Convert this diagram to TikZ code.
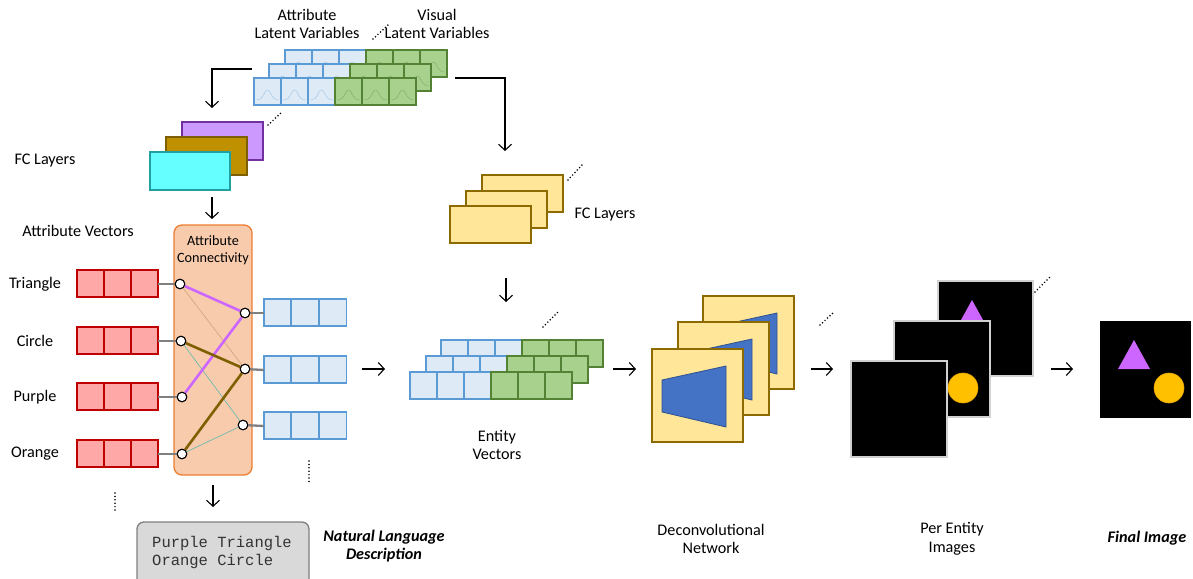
\documentclass[tikz,border=0pt]{standalone}
\usepackage{fontspec}
\setmainfont{Carlito}
\newfontfamily\monofont{Liberation Mono}
\usetikzlibrary{arrows.meta}
\definecolor{blueF}{HTML}{DEEBF7}
\definecolor{blueD}{HTML}{5B9BD5}
\definecolor{blueC}{HTML}{9DC3E6}
\definecolor{greenF}{HTML}{A9D18E}
\definecolor{greenD}{HTML}{548235}
\definecolor{greenC}{HTML}{7FA86A}
\definecolor{redF}{HTML}{FFA8A8}
\definecolor{redD}{HTML}{C00000}
\definecolor{purF}{HTML}{CC99FF}
\definecolor{purD}{HTML}{7030A0}
\definecolor{brnF}{HTML}{BF9000}
\definecolor{brnD}{HTML}{7F6000}
\definecolor{cyaF}{HTML}{66FFFF}
\definecolor{cyaD}{HTML}{20A0A0}
\definecolor{yelF}{HTML}{FFE699}
\definecolor{yelD}{HTML}{8C6A00}
\definecolor{orgF}{HTML}{F8CBAD}
\definecolor{orgD}{HTML}{ED7D31}
\definecolor{trapF}{HTML}{4472C4}
\definecolor{trapD}{HTML}{2F528F}
\definecolor{triC}{HTML}{CC66FF}
\definecolor{cirC}{HTML}{FFC000}
\definecolor{cirD}{HTML}{E0A000}
\definecolor{linkP}{HTML}{CC66FF}
\definecolor{linkB}{HTML}{7F6000}
\definecolor{thinT}{HTML}{D0A27C}
\definecolor{thinC}{HTML}{5FB8B0}
\definecolor{boxF}{HTML}{D9D9D9}
\definecolor{boxD}{HTML}{7F7F7F}
\newcommand\latcell[5]{%
  \draw[fill=#3,draw=#4,line width=1.3pt] (#1,#2) rectangle ++(27,27);
  \draw[#5,line width=0.4pt] plot[domain=-1:1,samples=25,variable=\t] ({#1+13.5+11*\t},{#2+22-10*exp(-5*\t*\t)});}
\newcommand\plaincell[4]{%
  \draw[fill=#3,draw=#4,line width=1.3pt] (#1,#2) rectangle ++(27,27);}
\begin{document}
\begin{tikzpicture}[x=1pt,y=-1pt,
  lbl/.style={font=\fontsize{16.2}{18.5}\selectfont, align=center, inner sep=0pt},
  smlbl/.style={font=\fontsize{14.2}{17}\selectfont, align=center, inner sep=0pt},
  bilbl/.style={font=\fontsize{16.2}{18.5}\selectfont\bfseries\itshape, align=center, inner sep=0pt},
  arr/.style={-{Straight Barb[length=6pt,width=13pt]}, line width=1.1pt},
  dotsline/.style={line width=1.7pt, line cap=round, dash pattern=on 0pt off 3.4pt},
  gconn/.style={draw=gray, line width=2.3pt},
  port/.style={circle, draw=black, fill=white, line width=1pt, minimum size=9.5pt, inner sep=0pt},
  fcbox/.style={line width=1.5pt},
  sq/.style={draw=yelD, fill=yelF, line width=1.6pt},
  img/.style={fill=black, draw=white!82!black, line width=1.4pt},
]
\useasboundingbox (0,0) rectangle (1193,578);

% ---------- top latent variables ----------
\node[lbl] (attlat) at (307,24) {Attribute\\Latent Variables};
\node[lbl] (vislat) at (437,24) {Visual\\Latent Variables};
\coordinate (d1a) at (373,39); \coordinate (d1b) at (388,25);
\draw[dotsline] (d1a) -- (d1b);
\foreach \rx/\ry in {285/50, 269/64, 254/78}{
  \foreach \i in {0,1,2}{\latcell{\rx+27*\i}{\ry}{blueF}{blueD}{blueC}}
  \foreach \i in {3,4,5}{\latcell{\rx+27*\i}{\ry}{greenF}{greenD}{greenC}}
}
\coordinate (lA) at (252,69); \coordinate (lB) at (212,108);
\draw[arr] (lA) -| (lB);
\coordinate (rA) at (455,78); \coordinate (rB) at (505,151);
\draw[arr] (rA) -| (rB);

% ---------- left FC layers ----------
\draw[fcbox, fill=purF, draw=purD] (182,122) rectangle (263,160);
\draw[fcbox, fill=brnF, draw=brnD] (166,137) rectangle (247,175);
\draw[fcbox, fill=cyaF, draw=cyaD] (150,152) rectangle (230,190);
\coordinate (d2a) at (268,125); \coordinate (d2b) at (282,112);
\draw[dotsline] (d2a) -- (d2b);
\node[lbl] (fcl) at (45,161) {FC Layers};
\coordinate (aA) at (212,197); \coordinate (aB) at (212,219);
\draw[arr] (aA) -- (aB);

% ---------- attribute vectors & connectivity ----------
\node[lbl] (attvec) at (78,231) {Attribute Vectors};
\draw[fill=orgF, draw=orgD, line width=1.3pt, rounded corners=8pt] (174,225) rectangle (252,475);
\node[smlbl] (attcon) at (213,250) {Attribute\\Connectivity};

\foreach \yy/\nm/\tx in {270/1/Triangle, 327/2/Circle, 383/3/Purple, 440/4/Orange}{
  \foreach \i in {0,1,2}{\plaincell{77+27*\i}{\yy}{redF}{redD}}
  \node[lbl] (lab\nm) at (35,\yy+14) {\tx};
  \coordinate (rv\nm) at (158,\yy+14);
}
\foreach \yy/\nm in {299/1, 356/2, 412/3}{
  \foreach \i in {0,1,2}{\plaincell{264+27.7*\i}{\yy}{blueF}{blueD}}
  \coordinate (bv\nm) at (264,\yy+14);
}
\node[port] (L1) at (180,284) {};
\node[port] (L2) at (181,341) {};
\node[port] (L3) at (182,397) {};
\node[port] (L4) at (182,454) {};
\node[port] (R1) at (245,313) {};
\node[port] (R2) at (245,369) {};
\node[port] (R3) at (243,425) {};
\foreach \k in {1,2,3,4}{\draw[gconn] (rv\k) -- (L\k);}
\foreach \k in {1,2,3}{\draw[gconn] (R\k) -- (bv\k);}
\draw[thinT, line width=0.6pt] (L1) -- (R2);
\draw[thinC, line width=0.6pt] (L2) -- (R3);
\draw[thinC, line width=0.6pt] (L4) -- (R3);
\draw[linkP, line width=2.6pt] (L1) -- (R1);
\draw[linkP, line width=2.6pt] (L3) -- (R1);
\draw[linkB, line width=2.6pt] (L2) -- (R2);
\draw[linkB, line width=2.6pt] (L4) -- (R2);
\foreach \n in {L1,L2,L3,L4,R1,R2,R3}{\node[port] at (\n) {};}

\coordinate (v1a) at (309,461); \coordinate (v1b) at (309,482);
\draw[dotsline] (v1a) -- (v1b);
\coordinate (v2a) at (115,493); \coordinate (v2b) at (115,513);
\draw[dotsline] (v2a) -- (v2b);
\coordinate (bA) at (213,485); \coordinate (bB) at (213,507);
\draw[arr] (bA) -- (bB);

% ---------- natural language box ----------
\draw[fill=boxF, draw=boxD, line width=1.3pt, rounded corners=7pt] (137,522) rectangle (309,595);
\node[anchor=west, align=left, inner sep=0pt, text=black!80, font=\monofont\fontsize{15.5}{18}\selectfont] (nl) at (152,552) {Purple Triangle\\Orange Circle};
\node[bilbl] (nld) at (384,546) {Natural Language\\Description};

% ---------- arrow to entity vectors ----------
\coordinate (cA) at (362,369); \coordinate (cB) at (385,369);
\draw[arr] (cA) -- (cB);

% ---------- right FC layers ----------
\draw[fcbox, fill=yelF, draw=yelD] (482,175) rectangle (563,212);
\draw[fcbox, fill=yelF, draw=yelD] (466,191) rectangle (547,228);
\draw[fcbox, fill=yelF, draw=yelD] (450,206) rectangle (531,243);
\coordinate (d3a) at (568,180); \coordinate (d3b) at (582,165);
\draw[dotsline] (d3a) -- (d3b);
\node[lbl] (fcr) at (605,215) {FC Layers};
\coordinate (eA) at (506,278); \coordinate (eB) at (506,302);
\draw[arr] (eA) -- (eB);

% ---------- entity vectors ----------
\foreach \rx/\ry in {441/340, 426/356, 410/372}{
  \foreach \i in {0,1,2}{\plaincell{\rx+27*\i}{\ry}{blueF}{blueD}}
  \foreach \i in {3,4,5}{\plaincell{\rx+27*\i}{\ry}{greenF}{greenD}}
}
\coordinate (d4a) at (543,327); \coordinate (d4b) at (558,312);
\draw[dotsline] (d4a) -- (d4b);
\node[lbl] (ent) at (497,445) {Entity\\Vectors};
\coordinate (fA) at (613,369); \coordinate (fB) at (636,369);
\draw[arr] (fA) -- (fB);

% ---------- deconvolutional network ----------
\foreach \sx/\sy in {703/296, 678/322, 652/349}{
  \draw[sq] (\sx,\sy) rectangle ++(91,93);
  \draw[fill=trapF, draw=trapD, line width=0.8pt] (\sx+10,\sy+31) -- (\sx+74,\sy+17) -- (\sx+74,\sy+78) -- (\sx+10,\sy+63) -- cycle;
}
\coordinate (d5a) at (820,325); \coordinate (d5b) at (834,312);
\draw[dotsline] (d5a) -- (d5b);
\node[lbl] (dec) at (711,539) {Deconvolutional\\Network};
\coordinate (gA) at (811,369); \coordinate (gB) at (833,369);
\draw[arr] (gA) -- (gB);

% ---------- per entity images ----------
\draw[img] (938,281) rectangle ++(95,95);
\fill[triC] (972,300) -- (988,329) -- (956,329) -- cycle;
\draw[img] (894,321) rectangle ++(96,96);
\draw[fill=cirC, draw=cirD, line width=0.6pt] (963,388) circle (15);
\draw[img] (851,361) rectangle ++(96,96);
\coordinate (d6a) at (1035,292); \coordinate (d6b) at (1050,277);
\draw[dotsline] (d6a) -- (d6b);
\node[lbl] (pei) at (952,539) {Per Entity\\Images};
\coordinate (hA) at (1051,369); \coordinate (hB) at (1073,369);
\draw[arr] (hA) -- (hB);

% ---------- final image ----------
\fill[black] (1100,321) rectangle (1191,418);
\fill[triC] (1134,340) -- (1150,369) -- (1118,369) -- cycle;
\draw[fill=cirC, draw=cirD, line width=0.6pt] (1169,388) circle (15);
\node[bilbl] (fin) at (1147,538) {Final Image};
\end{tikzpicture}
\end{document}
